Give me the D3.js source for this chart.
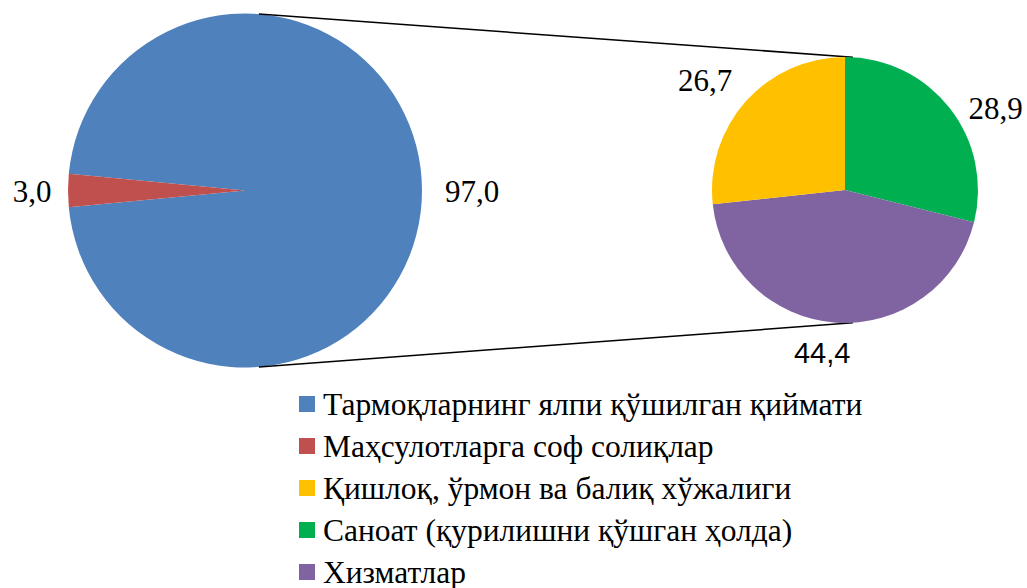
<!DOCTYPE html>
<html>
<head>
<meta charset="utf-8">
<style>
  body { margin: 0; background: #fff; }
</style>
</head>
<body>
<svg id="chart" width="1027" height="588"></svg>
<script src="https://cdn.jsdelivr.net/npm/d3@7"></script>
<script>
// main pie
var mainCats = ["Тармоқларнинг ялпи қўшилган қиймати", "Маҳсулотларга соф солиқлар"];
var mainVals = [97.0, 3.0];
var mainColors = ["#4F81BD", "#C0504D"];

// breakdown pie (clockwise from top)
var subCats = ["Саноат (қурилишни қўшган ҳолда)", "Хизматлар", "Қишлоқ, ўрмон ва балиқ хўжалиги"];
var subVals = [28.9, 44.4, 26.7];
var subColors = ["#00B050", "#8064A2", "#FFC000"];

// legend order as in the picture
var legendLabels = ["Тармоқларнинг ялпи қўшилган қиймати", "Маҳсулотларга соф солиқлар",
  "Қишлоқ, ўрмон ва балиқ хўжалиги", "Саноат (қурилишни қўшган ҳолда)", "Хизматлар"];
var legendColors = ["#4F81BD", "#C0504D", "#FFC000", "#00B050", "#8064A2"];

var fmt = function(v) { return d3.format(".1f")(v).replace(".", ","); };
var svg = d3.select("#chart");
var rad = Math.PI / 180;
var serif = "'Liberation Serif'";
var sans = "'Liberation Sans'";

// big pie, red slice centred on the left
var big = {cx: 245, cy: 190.5, r: 177};
var redHalf = Math.PI * mainVals[1] / 100;
var bigPie = d3.pie().sort(null)
  .startAngle(1.5 * Math.PI + redHalf)
  .endAngle(3.5 * Math.PI + redHalf);
var bigArcs = bigPie(mainVals);
var bigArc = d3.arc().innerRadius(0).outerRadius(big.r);

var gBig = svg.append("g").attr("transform", "translate(" + big.cx + "," + big.cy + ")");
gBig.selectAll("path").data(bigArcs).enter().append("path")
  .attr("d", bigArc)
  .attr("fill", function(d, i) { return mainColors[i]; });

var bigLabelR = [227, 213];
gBig.selectAll("text").data(bigArcs).enter().append("text")
  .attr("x", function(d, i) { var a = (d.startAngle + d.endAngle) / 2; return bigLabelR[i] * Math.sin(a); })
  .attr("y", function(d, i) { var a = (d.startAngle + d.endAngle) / 2; return -bigLabelR[i] * Math.cos(a) + 11; })
  .attr("text-anchor", "middle")
  .style("font-family", serif)
  .style("font-size", "31px")
  .text(function(d) { return fmt(d.data); });

// small pie
var small = {cx: 845, cy: 190, r: 133};
var subPie = d3.pie().sort(null);
var subArcs = subPie(subVals);
var subArc = d3.arc().innerRadius(0).outerRadius(small.r);

// connector lines
var links = [[4.5, 3.4], [175.5, 176.6]];
svg.selectAll("line.link").data(links).enter().append("line")
  .attr("class", "link")
  .attr("x1", function(d) { return big.cx + big.r * Math.sin(d[0] * rad); })
  .attr("y1", function(d) { return big.cy - big.r * Math.cos(d[0] * rad); })
  .attr("x2", function(d) { return small.cx + small.r * Math.sin(d[1] * rad); })
  .attr("y2", function(d) { return small.cy - small.r * Math.cos(d[1] * rad); })
  .attr("stroke", "#000")
  .attr("stroke-width", 1.5);

var gSmall = svg.append("g").attr("transform", "translate(" + small.cx + "," + small.cy + ")");
gSmall.selectAll("path").data(subArcs).enter().append("path")
  .attr("d", subArc)
  .attr("fill", function(d, i) { return subColors[i]; });

var subLabelR = 172;
var subNudge = [[15, 24], [-11, -10], [-12, 5]];
gSmall.selectAll("text").data(subArcs).enter().append("text")
  .attr("x", function(d, i) { var a = (d.startAngle + d.endAngle) / 2; return subLabelR * Math.sin(a) + subNudge[i][0]; })
  .attr("y", function(d, i) { var a = (d.startAngle + d.endAngle) / 2; return -subLabelR * Math.cos(a) + subNudge[i][1] + 11; })
  .attr("text-anchor", "middle")
  .style("font-family", function(d, i) { return i === 1 ? sans : serif; })
  .style("font-size", function(d, i) { return i === 1 ? "29px" : "31px"; })
  .text(function(d) { return fmt(d.data); });

// legend
var legend = svg.append("g").attr("transform", "translate(299,404)");
var rows = legend.selectAll("g").data(legendLabels).enter().append("g")
  .attr("transform", function(d, i) { return "translate(0," + (i * 42) + ")"; });
rows.append("rect")
  .attr("x", 0).attr("y", -8).attr("width", 16).attr("height", 16)
  .attr("fill", function(d, i) { return legendColors[i]; });
rows.append("text")
  .attr("x", 24).attr("y", 11)
  .style("font-family", serif)
  .style("font-size", "31.5px")
  .text(function(d) { return d; });
</script>
</body>
</html>
